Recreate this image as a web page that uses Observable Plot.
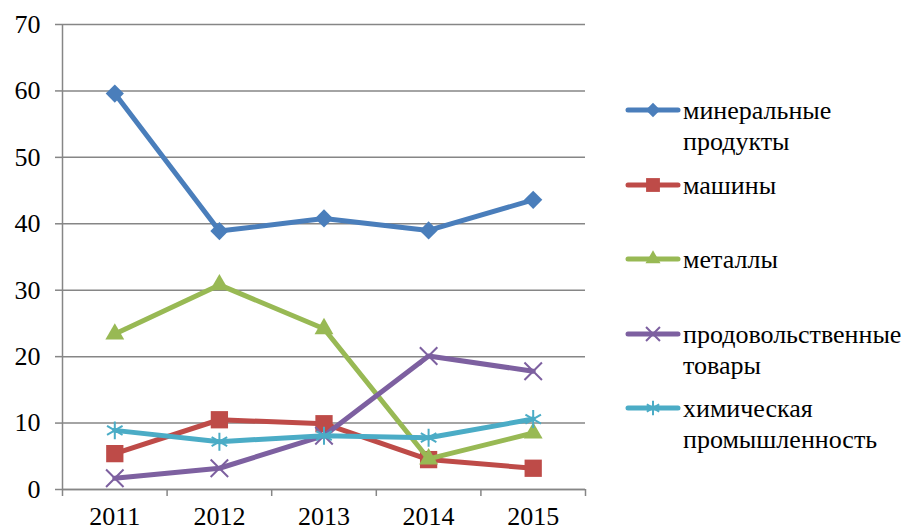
<!DOCTYPE html>
<html>
<head>
<meta charset="utf-8">
<script src="https://cdn.jsdelivr.net/npm/d3@7"></script>
<script src="https://cdn.jsdelivr.net/npm/@observablehq/plot@0.6"></script>
<style>
  html, body { margin: 0; padding: 0; background: #fff; }
  #wrap { position: relative; width: 910px; height: 531px; overflow: hidden; }
  #legend { position: absolute; left: 625px; top: 98px; }
  .item { display: flex; align-items: flex-start; height: 74.6px; }
  .item svg { flex: none; width: 56px; height: 24px; margin-right: 2px; }
  .item .lbl { font-size: 26px; line-height: 31px; margin-top: -3px; color: #000; white-space: nowrap; }
</style>
</head>
<body>
<div id="wrap"><div id="chart"></div><div id="legend"></div></div>
<script>
// ---- data ----
const years = [2011, 2012, 2013, 2014, 2015];
const mineral = [59.6, 38.9, 40.8, 39.0, 43.6];
const machines = [5.4, 10.5, 9.9, 4.5, 3.2];
const metals = [23.4, 30.8, 24.2, 4.6, 8.5];
const food = [1.7, 3.2, 8.1, 20.1, 17.8];
const chemical = [8.9, 7.2, 8.1, 7.8, 10.6];
const seriesNames = [["минеральные", "продукты"], ["машины"], ["металлы"], ["продовольственные", "товары"], ["химическая", "промышленность"]];
const seriesValues = [mineral, machines, metals, food, chemical];
const yTicks = [0, 10, 20, 30, 40, 50, 60, 70];

// ---- styles ----
const colors = ["#4A7EBB", "#BE4B48", "#98B954", "#7D60A0", "#4BACC6"];
const symbols = ["diamond2", "square2", "triangle2", "times", "asterisk"];
const d3Symbols = [d3.symbolDiamond2, d3.symbolSquare2, d3.symbolTriangle2, d3.symbolTimes, d3.symbolAsterisk];
const radii = [8.2, 11, 9, 8, 8.5];
const strokeSym = [false, false, false, true, true];
const grid = "#868686";
const serif = "Liberation Serif";

const bounds = d3.range(years.length + 1).map(i => years[0] - 0.5 + i);

const marks = [
  Plot.gridY({ticks: yTicks, stroke: grid, strokeOpacity: 1, strokeWidth: 1.5}),
  Plot.ruleX([bounds[0]], {stroke: grid, strokeWidth: 1.5}),
  Plot.ruleY([0], {stroke: grid, strokeWidth: 1.5}),
  Plot.axisY({ticks: yTicks, tickSize: 7, tickPadding: 15, stroke: grid, strokeWidth: 1.5, fill: "#000", fontSize: 26, fontFamily: serif, label: null}),
  Plot.axisX({ticks: bounds, tickSize: 7, tickFormat: () => "", stroke: grid, strokeWidth: 1.5, label: null}),
  Plot.axisX({ticks: years, tickSize: 0, tickPadding: 17, tickFormat: d => String(d), fill: "#000", fontSize: 26, fontFamily: serif, label: null})
];

seriesValues.forEach((vals, i) => {
  const data = years.map((yr, j) => ({year: yr, value: vals[j]}));
  marks.push(Plot.lineY(data, {x: "year", y: "value", stroke: colors[i], strokeWidth: 5, strokeLinejoin: "round", strokeLinecap: "round"}));
  marks.push(Plot.dot(data, strokeSym[i]
    ? {x: "year", y: "value", symbol: symbols[i], r: radii[i], stroke: colors[i], strokeWidth: 2, fill: "none"}
    : {x: "year", y: "value", symbol: symbols[i], r: radii[i], fill: colors[i], stroke: "none"}));
});

const chart = Plot.plot({
  width: 910,
  height: 531,
  marginLeft: 62,
  marginRight: 325,
  marginTop: 24,
  marginBottom: 42,
  x: {type: "linear", domain: [bounds[0], bounds[bounds.length - 1]], axis: null, label: null},
  y: {domain: [0, 70], axis: null, label: null},
  style: "font-family: 'Liberation Serif', serif; font-size: 26px; color: #000; background: #fff; overflow: visible;",
  marks
});
chart.setAttribute("font-family", "Liberation Serif");
document.getElementById("chart").appendChild(chart);

// ---- legend ----
const legend = d3.select("#legend");
seriesNames.forEach((lines, i) => {
  const item = legend.append("div").attr("class", "item");
  const svg = item.append("svg").attr("viewBox", "0 0 56 24");
  svg.append("line").attr("x1", 3).attr("x2", 53).attr("y1", 12).attr("y2", 12)
    .attr("stroke", colors[i]).attr("stroke-width", 5).attr("stroke-linecap", "round");
  const path = svg.append("path")
    .attr("transform", "translate(28,12)")
    .attr("d", d3.symbol(d3Symbols[i], Math.PI * Math.pow(radii[i] * 0.8, 2))());
  if (strokeSym[i]) path.attr("fill", "none").attr("stroke", colors[i]).attr("stroke-width", 2);
  else path.attr("fill", colors[i]);
  item.append("div").attr("class", "lbl").attr("style", "font-family:'Liberation Serif'").html(lines.join("<br>"));
});
</script>
</body>
</html>
